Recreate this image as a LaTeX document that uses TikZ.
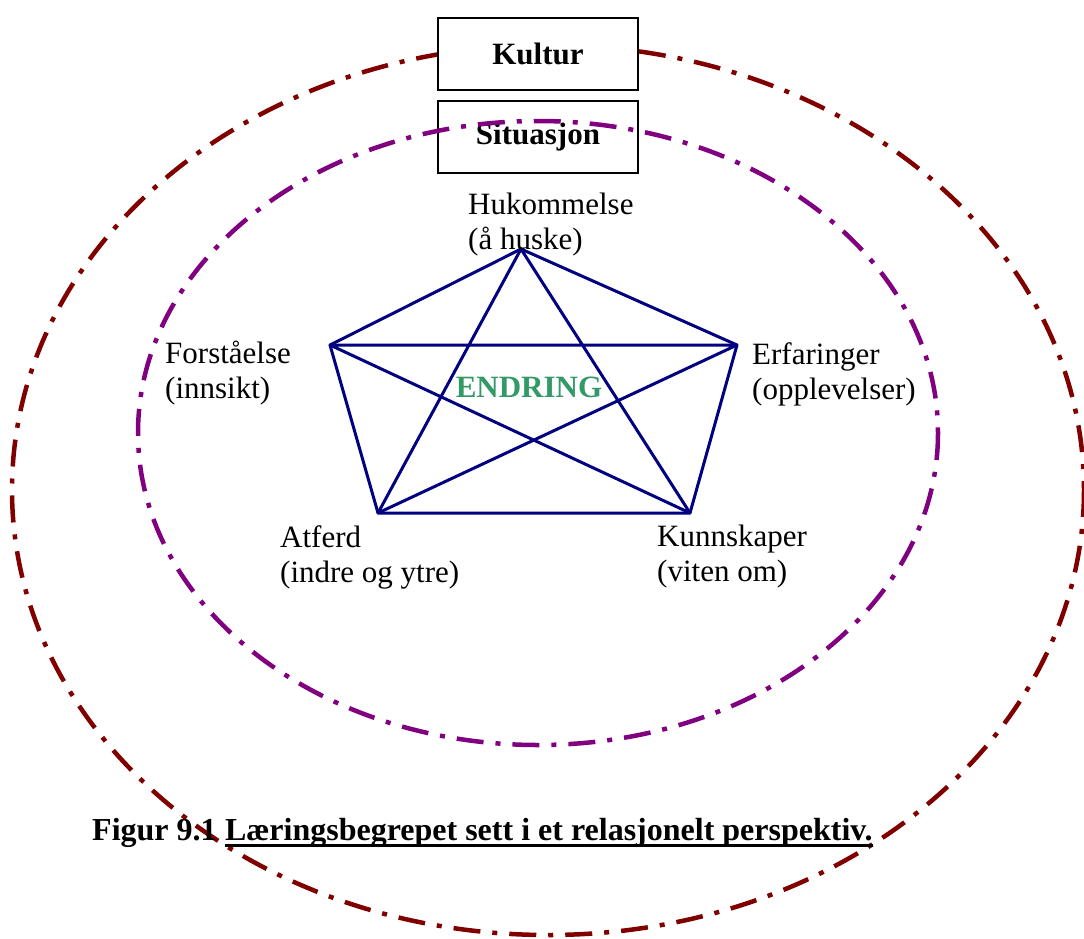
\documentclass[tikz,border=0pt]{standalone}
\usepackage{fontspec}
\setmainfont{Liberation Serif}
\definecolor{kulturred}{HTML}{800000}
\definecolor{situlilla}{HTML}{800080}
\definecolor{stjerneblaa}{HTML}{000080}
\definecolor{endringgronn}{HTML}{339966}
\newcommand{\storskrift}{\fontsize{31}{35}\selectfont}
\newcommand{\figurskrift}{\fontsize{32}{36}\selectfont}
\tikzset{
  ring/.style={line width=4.5pt, dash pattern=on 27pt off 12pt on 5pt off 12pt},
  rammeboks/.style={draw, line width=1.6pt, minimum width=200pt, minimum height=72pt, font=\storskrift\bfseries},
  tekst/.style={anchor=north west, align=left, inner sep=0pt},
  strek/.style={stjerneblaa, line width=3pt, line join=round},
}
\begin{document}
\begin{tikzpicture}[x=1pt,y=-1pt,font=\storskrift]
\useasboundingbox (0,0) rectangle (1084,938);
\clip (0,0) rectangle (1084,938);

% ytre ring
\draw [ring, kulturred] (548,490) ellipse (536 and 445);
\node [rammeboks, fill=white] (kultur) at (538,54) {Kultur};
\node [rammeboks] (situasjon) at (538,137) {Situasjon};
% indre ring
\draw [ring, situlilla] (538,433) ellipse (400 and 312);

% femkant og stjerne
\coordinate (huk) at (521,249);
\coordinate (forst) at (330,345);
\coordinate (erf) at (737,345);
\coordinate (atf) at (378,513);
\coordinate (kunn) at (690,513);
\draw [strek] (huk) -- (erf) -- (kunn) -- (atf) -- (forst) -- cycle;
\draw [strek] (huk) -- (atf) -- (erf) -- (forst) -- (kunn) -- cycle;

\node [tekst] (hukt) at (468,193) {Hukommelse\\(å huske)};
\node [tekst] (forstt) at (165,341) {Forståelse\\(innsikt)};
\node [tekst] (erft) at (752,342) {Erfaringer\\(opplevelser)};
\node [tekst] (atft) at (280,525) {Atferd\\(indre og ytre)};
\node [tekst] (kunnt) at (657,525) {Kunnskaper\\(viten om)};
\node [font=\storskrift\bfseries, endringgronn] (endring) at (529,387) {ENDRING};

% figurtekst
\node [anchor=base west, inner sep=0pt, font=\figurskrift\bfseries] (figur) at (92,840) {Figur 9.1};
\node [anchor=base west, inner sep=0pt, font=\figurskrift\bfseries] (tittel) at ([xshift=8pt]figur.base east) {Læringsbegrepet sett i et relasjonelt perspektiv.};
\draw [line width=3pt] ([yshift=-5pt]tittel.base west) -- ([yshift=-5pt]tittel.base east);
\end{tikzpicture}
\end{document}
